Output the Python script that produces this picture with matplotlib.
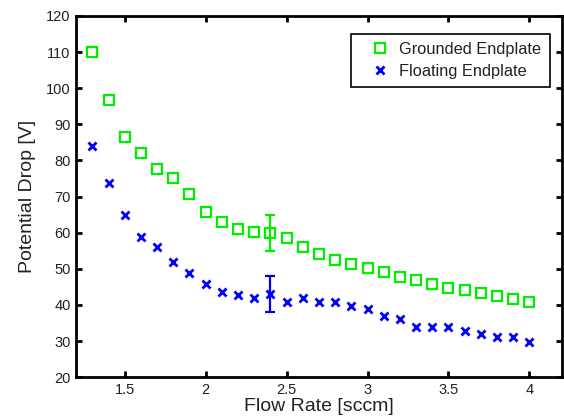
import matplotlib
matplotlib.use('Agg')
import matplotlib.pyplot as plt

plt.rcParams['font.family'] = ['Liberation Sans', 'DejaVu Sans']

# Flow rate steps (sccm)
flow = [1.3, 1.4, 1.5, 1.6, 1.7, 1.8, 1.9, 2.0, 2.1, 2.2, 2.3, 2.4, 2.5, 2.6,
        2.7, 2.8, 2.9, 3.0, 3.1, 3.2, 3.3, 3.4, 3.5, 3.6, 3.7, 3.8, 3.9, 4.0]
# Potential drop with grounded endplate
grounded = [110.0, 96.7, 86.4, 82.0, 77.6, 75.0, 70.6, 65.6, 62.9, 61.1, 60.1, 59.9, 58.6, 56.1,
            54.0, 52.4, 51.3, 50.3, 49.2, 47.8, 46.8, 45.9, 44.8, 44.1, 43.2, 42.4, 41.7, 40.9]
# Potential drop with floating endplate
floating = [83.9, 73.8, 64.9, 58.9, 55.9, 52.0, 48.8, 45.8, 43.7, 42.8, 41.9, 43.0, 40.9, 41.9,
            40.9, 40.9, 39.8, 38.9, 37.0, 36.0, 33.9, 33.9, 33.9, 32.8, 31.9, 31.0, 31.0, 29.8]
# Single representative error bar at 2.4 sccm
err_x = 2.4
err_size = 5.0

fig = plt.figure(figsize=(5.64, 4.2), dpi=100)
ax = fig.add_axes([0.135, 0.102, 0.861, 0.86])

ax.plot(flow, grounded, 's', color='#00ee00', markerfacecolor='none',
        markersize=7.5, markeredgewidth=1.6, label='Grounded Endplate')
ax.plot(flow, floating, 'x', color='#0000ee', markersize=6,
        markeredgewidth=2, label='Floating Endplate')

i = flow.index(err_x)
ax.errorbar(err_x, grounded[i], yerr=err_size, fmt='none', ecolor='#00ee00',
            elinewidth=1.6, capsize=3.5, capthick=1.6)
ax.errorbar(err_x, floating[i], yerr=err_size, fmt='none', ecolor='#0000ee',
            elinewidth=1.6, capsize=3.5, capthick=1.6)

ax.set_xlim(1.2, 4.2)
ax.set_ylim(20, 120)
ax.set_xticks([1.5, 2, 2.5, 3, 3.5, 4])
ax.set_xticklabels(['1.5', '2', '2.5', '3', '3.5', '4'])
ax.set_yticks(range(20, 121, 10))

ax.tick_params(direction='in', top=True, right=True, width=2, length=4,
               labelsize=10.5, labelcolor='#222222', pad=4)
for s in ax.spines.values():
    s.set_linewidth(2)

ax.set_xlabel('Flow Rate [sccm]', fontsize=14, labelpad=1, color='#222222')
ax.set_ylabel('Potential Drop [V]', fontsize=14, labelpad=7, color='#222222')

leg = ax.legend(loc='upper right', bbox_to_anchor=(0.975, 0.95), borderaxespad=0,
                fontsize=11.8, fancybox=False, framealpha=1, edgecolor='black',
                handlelength=2.5, handletextpad=-0.05, borderpad=0.5,
                labelspacing=0.4)
leg.get_frame().set_linewidth(1.2)
for t in leg.get_texts():
    t.set_color('#222222')

fig.savefig('out.png', dpi=100)
